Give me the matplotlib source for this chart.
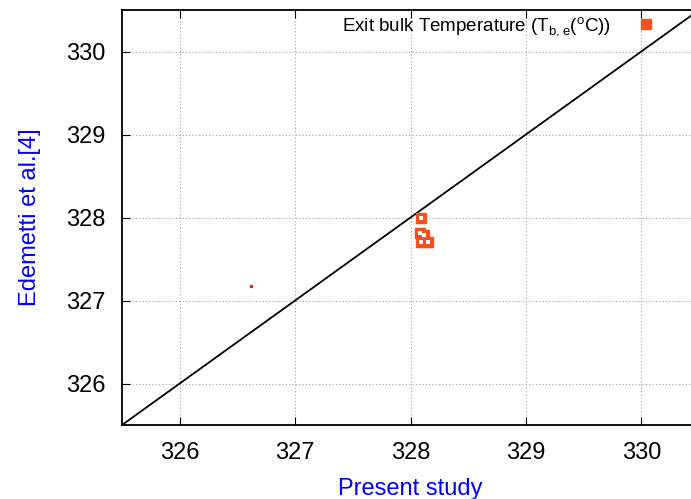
import matplotlib
matplotlib.use("Agg")
import matplotlib.pyplot as plt
from matplotlib.legend_handler import HandlerTuple

plt.rcParams['font.family'] = ['Liberation Sans', 'DejaVu Sans']

# present study vs Edemetti et al. exit bulk temperature
present = [328.09, 328.08, 328.12, 328.09, 328.15]
edemetti = [328.0, 327.81, 327.79, 327.70, 327.70]
stray_x = [326.62]
stray_y = [327.17]
diag = [325.5, 330.5]
ticks = [326, 327, 328, 329, 330]

orange = '#f4511e'

fig = plt.figure(figsize=(6.91, 4.99), dpi=100)
ax = fig.add_axes([122/691, 74/499, 577/691, 415/499])

ax.plot(diag, diag, color='black', lw=1.3)
h1, = ax.plot(present, edemetti, ls='none', marker='s', ms=7.5, mfc=orange, mec=orange)
h2, = ax.plot(present, edemetti, ls='none', marker='s', ms=2.2, mfc='white', mec='white', mew=0)
ax.plot(stray_x, stray_y, ls='none', marker='o', ms=1.5, color='#d02020')

ax.set_xlim(325.5, 330.5)
ax.set_ylim(325.5, 330.5)
ax.set_xticks(ticks)
ax.set_yticks(ticks)
ax.tick_params(direction='in', length=6, labelsize=17, top=True, right=False, pad=12)
ax.grid(True, ls=(0, (1, 2)), color='#a0a0a0', lw=0.8)
for s in ['left', 'bottom', 'top']:
    ax.spines[s].set_linewidth(1.3)

ax.set_xlabel('Present study', color='blue', fontsize=17, labelpad=10)
ax.set_ylabel('Edemetti et al.[4]', color='blue', fontsize=17, labelpad=18)

ax.legend([(h1, h2)], [r'Exit bulk Temperature (T$_{\mathregular{b,e}}$($^{\mathregular{o}}$C))'],
          handler_map={tuple: HandlerTuple(ndivide=None, pad=0)},
          loc='upper right', bbox_to_anchor=(677/691, 1 + 2/499), bbox_transform=fig.transFigure,
          markerfirst=False, frameon=False, fontsize=13.5, handlelength=1.0, handletextpad=1.6)

fig.savefig('out.png', dpi=100)
